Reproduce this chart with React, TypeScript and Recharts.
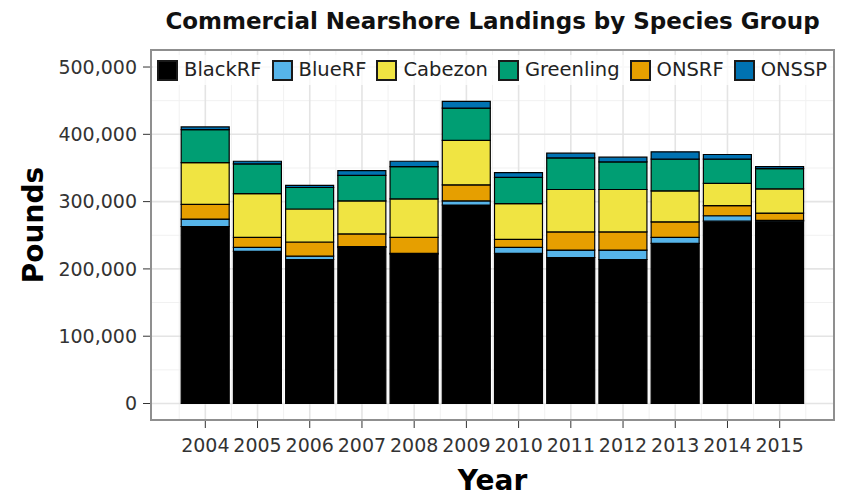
import React from 'react';
import { BarChart, Bar, XAxis, YAxis, CartesianGrid, Legend, Label } from 'recharts';

const YEARS = [2004, 2005, 2006, 2007, 2008, 2009, 2010, 2011, 2012, 2013, 2014, 2015];

// pounds landed (bottom to top)
const BLACK_RF = [263000, 226000, 214000, 232000, 222000, 295000, 223000, 217000, 214000, 238000, 271000, 271000];
const BLUE_RF = [11000, 6000, 5000, 1000, 1000, 6000, 9000, 11000, 14000, 9000, 8000, 1000];
const ONSRF = [22000, 15000, 21000, 19000, 24000, 24000, 12000, 27000, 27000, 23000, 15000, 11000];
const CABEZON = [62000, 65000, 49000, 49000, 57000, 66000, 53000, 63000, 63000, 46000, 33000, 36000];
const GREENLING = [49000, 44000, 32000, 38000, 48000, 48000, 39000, 47000, 41000, 47000, 36000, 30000];
const ONSSP = [4000, 4000, 3000, 7000, 8000, 10000, 7000, 7000, 7000, 11000, 7000, 3000];

const Y_TICKS = [0, 100000, 200000, 300000, 400000, 500000];
const Y_MINOR = [50000, 150000, 250000, 350000, 450000];
const X_MINOR = [2003.5, 2004.5, 2005.5, 2006.5, 2007.5, 2008.5, 2009.5, 2010.5, 2011.5, 2012.5, 2013.5, 2014.5, 2015.5];

// stacking order (bottom first)
const STACK = [
  { key: 'BlackRF', color: '#000000' },
  { key: 'BlueRF', color: '#56B4E9' },
  { key: 'ONSRF', color: '#E69F00' },
  { key: 'Cabezon', color: '#F0E442' },
  { key: 'Greenling', color: '#009E73' },
  { key: 'ONSSP', color: '#0072B2' },
];

// legend order
const LEGEND = [
  { key: 'BlackRF', color: '#000000' },
  { key: 'BlueRF', color: '#56B4E9' },
  { key: 'Cabezon', color: '#F0E442' },
  { key: 'Greenling', color: '#009E73' },
  { key: 'ONSRF', color: '#E69F00' },
  { key: 'ONSSP', color: '#0072B2' },
];

const data = YEARS.map((year, i) => ({
  year,
  BlackRF: BLACK_RF[i],
  BlueRF: BLUE_RF[i],
  ONSRF: ONSRF[i],
  Cabezon: CABEZON[i],
  Greenling: GREENLING[i],
  ONSSP: ONSSP[i],
}));

const renderLegend = () => (
  <div
    style={{
      display: 'flex',
      alignItems: 'center',
      padding: '3px 4px',
      background: 'rgba(255,255,255,0.75)',
      fontSize: 19.5,
      lineHeight: '24px',
      color: '#222',
    }}
  >
    {LEGEND.map((item) => (
      <div key={item.key} style={{ display: 'flex', alignItems: 'center', marginRight: 10 }}>
        <span
          style={{
            display: 'inline-block',
            width: 21,
            height: 21,
            boxSizing: 'border-box',
            border: '2px solid #1a1a1a',
            background: item.color,
            marginRight: 6,
          }}
        />
        <span>{item.key}</span>
      </div>
    ))}
  </div>
);

const App: React.FC = () => {
  return (
    <div style={{ position: 'absolute', left: 0, top: 0, width: 844, height: 496, fontFamily: 'DejaVu Sans', background: '#fff' }}>
      <div
        style={{
          position: 'absolute',
          left: 151,
          top: 7,
          width: 683,
          textAlign: 'center',
          fontSize: 23,
          lineHeight: '28px',
          fontWeight: 'bold',
          color: '#111',
        }}
      >
        Commercial Nearshore Landings by Species Group
      </div>
      <BarChart width={844} height={496} data={data} margin={{ top: 50, right: 10, bottom: 0, left: 0 }}>
        <CartesianGrid stroke="#f1f1f1" strokeWidth={1} horizontalValues={Y_MINOR} verticalValues={X_MINOR} />
        <CartesianGrid stroke="#e4e4e4" strokeWidth={1.6} horizontalValues={Y_TICKS} verticalValues={YEARS} />
        <XAxis
          dataKey="year"
          type="number"
          domain={[2002.96, 2016.04]}
          allowDataOverflow
          ticks={YEARS}
          interval={0}
          height={76}
          axisLine={false}
          tickLine={{ stroke: '#333' }}
          tickSize={8}
          tickMargin={11}
          tick={{ fontSize: 19, fill: '#333' }}
        >
          <Label value="Year" position="insideBottom" offset={6} style={{ fontSize: 28, fontWeight: 'bold', fill: '#000' }} />
        </XAxis>
        <YAxis
          type="number"
          domain={[-24500, 525300]}
          allowDataOverflow
          ticks={Y_TICKS}
          width={151}
          axisLine={false}
          tickLine={{ stroke: '#333' }}
          tickSize={8}
          tickMargin={6}
          tick={{ fontSize: 19, fill: '#333' }}
          tickFormatter={(v: number) => v.toLocaleString('en-US')}
        >
          <Label
            content={() => (
              <text x={43} y={225} transform="rotate(-90, 43, 225)" textAnchor="middle" fontSize={28} fontWeight="bold" fill="#000">
                Pounds
              </text>
            )}
          />
        </YAxis>
        <Legend
          layout="horizontal"
          verticalAlign="middle"
          align="center"
          content={renderLegend}
          wrapperStyle={{ top: 55, left: 153, width: 'auto' }}
        />
        {STACK.map((s) => (
          <Bar
            key={s.key}
            dataKey={s.key}
            stackId="a"
            fill={s.color}
            stroke="#000"
            strokeWidth={1.2}
            barSize={48}
            isAnimationActive={false}
          />
        ))}
      </BarChart>
      <div
        style={{
          position: 'absolute',
          left: 150,
          top: 49,
          width: 685,
          height: 372,
          boxSizing: 'border-box',
          border: '2px solid #8f8f8f',
          pointerEvents: 'none',
        }}
      />
    </div>
  );
};

export default App;
